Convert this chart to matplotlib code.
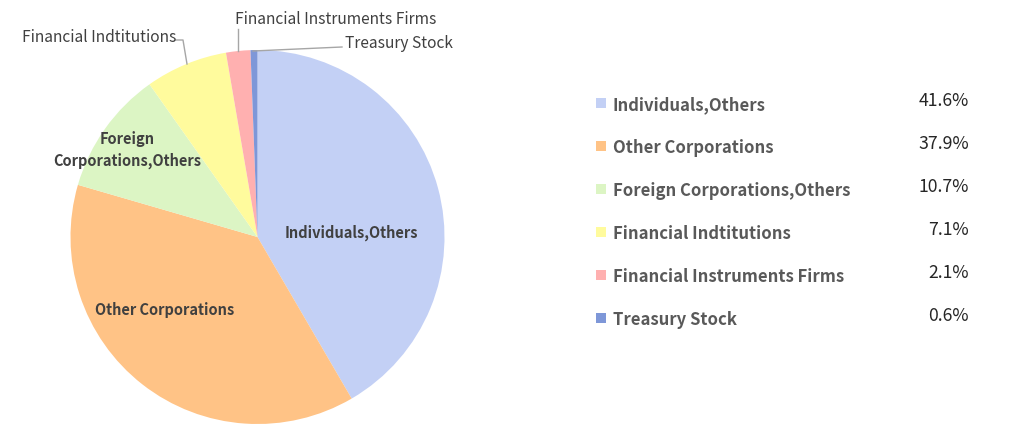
import matplotlib
matplotlib.use("Agg")
import matplotlib.pyplot as plt
from matplotlib.patches import Rectangle

categories = ["Individuals,Others", "Other Corporations", "Foreign Corporations,Others",
              "Financial Indtitutions", "Financial Instruments Firms", "Treasury Stock"]
values = [41.6, 37.9, 10.7, 7.1, 2.1, 0.6]
pct_labels = ["41.6%", "37.9%", "10.7%", "7.1%", "2.1%", "0.6%"]
colors = ["#C3D0F5", "#FFC386", "#DCF5C4", "#FFFB9D", "#FFB0B0", "#7E97D8"]

plt.rcParams['font.family'] = ['Noto Sans CJK JP', 'DejaVu Sans']

W, H = 1010, 435
fig = plt.figure(figsize=(W / 100, H / 100), dpi=100)
ax = fig.add_axes([0, 0, 1, 1])

cx, cy, r = 257.5, H - 238, 187
ax.pie(values, colors=colors, startangle=90, counterclock=False,
       center=(cx, cy), radius=r, frame=True, wedgeprops=dict(linewidth=0))
ax.set_xlim(0, W)
ax.set_ylim(0, H)
ax.set_aspect('equal')
ax.axis('off')

def Y(y):
    return H - y

inner_c = "#404040"
# inner labels
ax.text(351, Y(233), categories[0], ha='center', va='center', fontsize=10.5,
        fontweight='bold', color=inner_c)
ax.text(165, Y(310), categories[1], ha='center', va='center', fontsize=10.5,
        fontweight='bold', color=inner_c)
ax.text(127, Y(150), "Foreign\nCorporations,Others", ha='center', va='center',
        fontsize=10.5, fontweight='bold', color=inner_c, linespacing=1.5)

# outer labels with leader lines
lc = "#A6A6A6"
ax.text(22, Y(37), categories[3], ha='left', va='center', fontsize=11.2, color=inner_c)
ax.plot([176, 183, 187], [Y(41), Y(41), Y(65)], color=lc, lw=1)
ax.text(235, Y(19), categories[4], ha='left', va='center', fontsize=11.2, color=inner_c)
ax.plot([238, 238], [Y(52), Y(30)], color=lc, lw=1)
ax.text(345, Y(43), categories[5], ha='left', va='center', fontsize=11.2, color=inner_c)
ax.plot([253, 342], [Y(52), Y(48)], color=lc, lw=1)

# legend
y0, dy = 104, 43
for i, (cat, pl, col) in enumerate(zip(categories, pct_labels, colors)):
    yy = y0 + i * dy
    ax.add_patch(Rectangle((596, Y(yy) - 5), 10, 10, facecolor=col, edgecolor='none'))
    ax.text(613, Y(yy + 1), cat, ha='left', va='center', fontsize=12,
            fontweight='bold', color="#595959")
    ax.text(969, Y(yy - 3), pl, ha='right', va='center', fontsize=12.7,
            color="#262626")

fig.savefig("out.png", dpi=100)
